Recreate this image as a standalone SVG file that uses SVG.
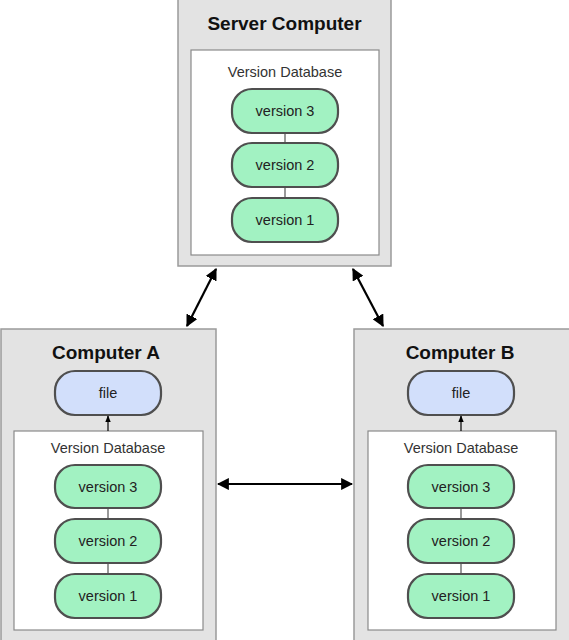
<svg xmlns="http://www.w3.org/2000/svg" width="569" height="640" viewBox="0 0 569 640">
<defs>
<style>
.outer{fill:#e3e3e3;stroke:#9a9a9a;stroke-width:1.5}
.inner{fill:#ffffff;stroke:#8a8a8a;stroke-width:1.2}
.ver{fill:#a2f2c2;stroke:#4f4f4f;stroke-width:2.2}
.file{fill:#d2dffb;stroke:#4f4f4f;stroke-width:2.2}
.title{font-family:"Liberation Sans",Arial,sans-serif;font-weight:bold;font-size:19px;fill:#111;text-anchor:middle}
.db{font-family:"Liberation Sans",Arial,sans-serif;font-size:14.5px;fill:#333;text-anchor:middle}
.lbl{font-family:"Liberation Sans",Arial,sans-serif;font-size:14.5px;fill:#222;text-anchor:middle}
.link{stroke:#555;stroke-width:1.2}
.arr{stroke:#000;stroke-width:2.2;fill:none}
.sarr{stroke:#000;stroke-width:1.2;fill:none}
</style>
<marker id="ah" viewBox="0 0 10 10" refX="9" refY="5" markerWidth="5.5" markerHeight="5.5" orient="auto-start-reverse" markerUnits="strokeWidth">
<path d="M0,0 L10,5 L0,10 Z" fill="#000"/>
</marker>
<marker id="sah" viewBox="0 0 10 10" refX="9" refY="5" markerWidth="6" markerHeight="6" orient="auto" markerUnits="strokeWidth">
<path d="M0,1 L10,5 L0,9 Z" fill="#000"/>
</marker>
</defs>

<g id="server">
<rect class="outer" x="178" y="-2" width="213" height="268"/>
<text class="title" x="284.5" y="30">Server Computer</text>
<rect class="inner" x="191" y="50" width="188" height="205"/>
<text class="db" x="285" y="77">Version Database</text>
<line class="link" x1="285" y1="133" x2="285" y2="143"/>
<line class="link" x1="285" y1="187" x2="285" y2="198"/>
<rect class="ver" x="232" y="89" width="106" height="44" rx="20"/>
<text class="lbl" x="285" y="116">version 3</text>
<rect class="ver" x="232" y="143" width="106" height="44" rx="20"/>
<text class="lbl" x="285" y="170">version 2</text>
<rect class="ver" x="232" y="198" width="106" height="44" rx="20"/>
<text class="lbl" x="285" y="225">version 1</text>
</g>

<g id="computerA">
<rect class="outer" x="1" y="329" width="215" height="313"/>
<text class="title" x="106" y="359">Computer A</text>
<rect class="file" x="55" y="371" width="106" height="44" rx="20"/>
<text class="lbl" x="108" y="398">file</text>
<rect class="inner" x="14" y="431" width="189" height="199"/>
<text class="db" x="108" y="453">Version Database</text>
<line class="link" x1="108" y1="508" x2="108" y2="519"/>
<line class="link" x1="108" y1="563" x2="108" y2="574"/>
<rect class="ver" x="55" y="465" width="106" height="43" rx="20"/>
<text class="lbl" x="108" y="492">version 3</text>
<rect class="ver" x="55" y="519" width="106" height="44" rx="20"/>
<text class="lbl" x="108" y="546">version 2</text>
<rect class="ver" x="55" y="574" width="106" height="44" rx="20"/>
<text class="lbl" x="108" y="601">version 1</text>
</g>

<g id="computerB">
<rect class="outer" x="354" y="329" width="216" height="313"/>
<text class="title" x="460" y="359">Computer B</text>
<rect class="file" x="408" y="371" width="106" height="44" rx="20"/>
<text class="lbl" x="461" y="398">file</text>
<rect class="inner" x="368" y="431" width="188" height="199"/>
<text class="db" x="461" y="453">Version Database</text>
<line class="link" x1="461" y1="508" x2="461" y2="519"/>
<line class="link" x1="461" y1="563" x2="461" y2="574"/>
<rect class="ver" x="408" y="465" width="106" height="43" rx="20"/>
<text class="lbl" x="461" y="492">version 3</text>
<rect class="ver" x="408" y="519" width="106" height="44" rx="20"/>
<text class="lbl" x="461" y="546">version 2</text>
<rect class="ver" x="408" y="574" width="106" height="44" rx="20"/>
<text class="lbl" x="461" y="601">version 1</text>
</g>

<g id="connectors">
<line class="arr" x1="216" y1="269" x2="187" y2="326" marker-start="url(#ah)" marker-end="url(#ah)"/>
<line class="arr" x1="353" y1="269" x2="383" y2="326" marker-start="url(#ah)" marker-end="url(#ah)"/>
<line class="arr" x1="218" y1="484" x2="352" y2="484" marker-start="url(#ah)" marker-end="url(#ah)"/>
<line class="sarr" x1="108" y1="431" x2="108" y2="416" marker-end="url(#sah)"/>
<line class="sarr" x1="461" y1="431" x2="461" y2="416" marker-end="url(#sah)"/>
</g>
</svg>
